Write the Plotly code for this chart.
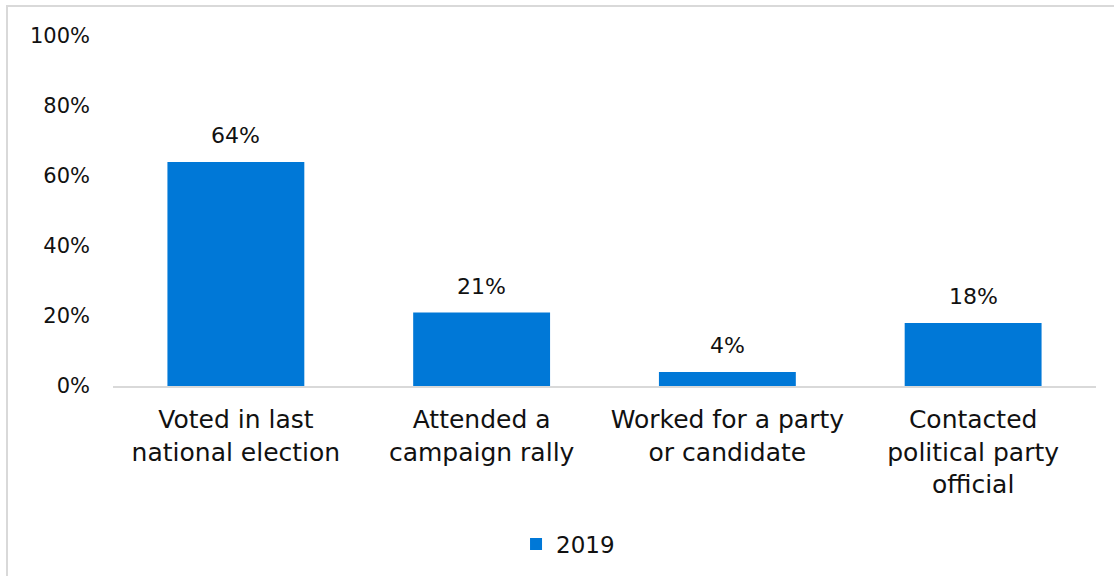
import plotly.graph_objects as go

categories = [
    "Voted in last<br>national election",
    "Attended a<br>campaign rally",
    "Worked for a party<br>or candidate",
    "Contacted<br>political party<br>official",
]
values_2019 = [64, 21, 4, 18]
series_name = "2019"
y_ticks = [0, 20, 40, 60, 80, 100]
y_tick_labels = ["0%", "20%", "40%", "60%", "80%", "100%"]

FONT = "'DejaVu Sans', sans-serif"
BAR_COLOR = "#0078D7"
TEXT_COLOR = "#111111"

W, H = 1114, 576
L, R, T, B = 113, 18, 36, 190
pw, ph = W - L - R, H - T - B

fig = go.Figure()
fig.add_trace(go.Bar(
    x=categories,
    y=values_2019,
    name=series_name,
    marker=dict(color=BAR_COLOR, line=dict(width=0)),
))

# value labels above each bar
for cat, v in zip(categories, values_2019):
    fig.add_annotation(
        x=cat, y=v, text=f"{v}%", showarrow=False,
        yanchor="bottom", yshift=12,
        font=dict(family=FONT, size=22, color=TEXT_COLOR),
    )

# outer chart frame (light gray)
fig.add_shape(
    type="rect", xref="paper", yref="paper",
    x0=(7 - L) / pw, x1=(W + 5 - L) / pw,
    y0=-(H + 5 - T - ph) / ph, y1=(H - B - 6) / ph,
    line=dict(color="#D9D9D9", width=2), fillcolor="rgba(0,0,0,0)",
    layer="below",
)

fig.update_layout(
    width=W, height=H,
    margin=dict(l=L, r=R, t=T, b=B, autoexpand=False),
    paper_bgcolor="white", plot_bgcolor="white",
    bargap=0.443,
    showlegend=True,
    legend=dict(
        orientation="h", x=0.41, xanchor="left", y=-0.39, yanchor="top",
        font=dict(family=FONT, size=23, color=TEXT_COLOR),
        itemwidth=30,
    ),
    font=dict(family=FONT, size=21, color=TEXT_COLOR),
    xaxis=dict(
        automargin=False,
        showgrid=False, showline=True, linecolor="#D9D9D9", linewidth=2,
        ticks="", tickfont=dict(family=FONT, size=25, color=TEXT_COLOR),
        ticklabelstandoff=10,
    ),
    yaxis=dict(
        automargin=False,
        range=[0, 100], tickvals=y_ticks, ticktext=y_tick_labels,
        showgrid=False, zeroline=False, showline=False, ticks="",
        tickfont=dict(family=FONT, size=21, color=TEXT_COLOR),
        ticklabelstandoff=22,
    ),
)

fig.write_html("out.html")
